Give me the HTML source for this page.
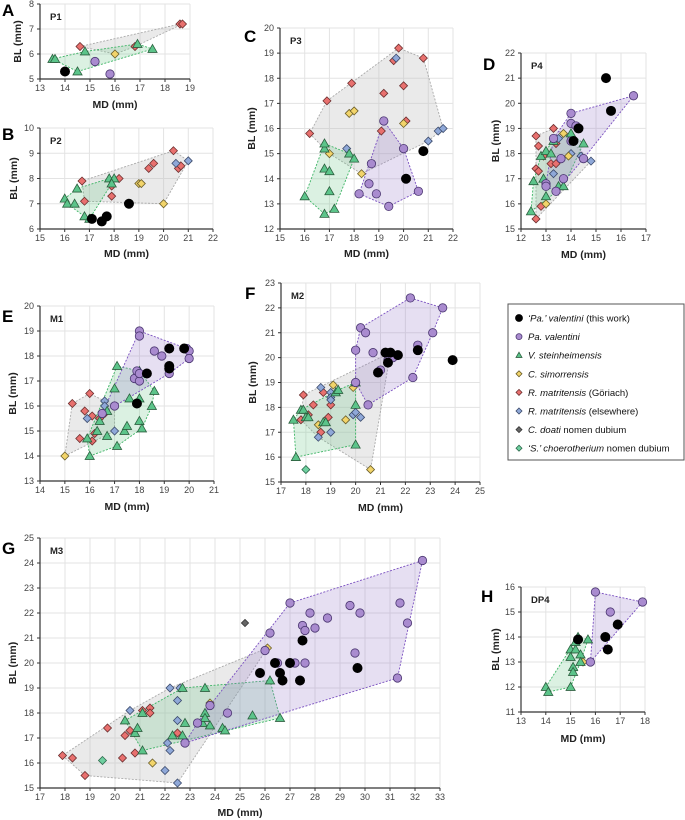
<!DOCTYPE html>
<html><head><meta charset="utf-8">
<style>
body{margin:0;background:#fff;}
svg{display:block;font-family:"Liberation Sans",sans-serif;}
.tk{font-size:9px;fill:#444;}
.at{font-size:10.5px;font-weight:bold;fill:#222;}
.pl{font-size:17px;font-weight:bold;fill:#000;}
.pt{font-size:9.5px;font-weight:bold;fill:#222;}
.lg{font-size:9.5px;fill:#111;}
</style></head>
<body>
<svg id="fig" width="685" height="820" viewBox="0 0 685 820"></svg>
<script>
// ---- data: [MD, BL] per series ----
const seriesNames = ["'Pa.' valentini (this work)","Pa. valentini","V. steinheimensis","C. simorrensis","R. matritensis (Göriach)","R. matritensis (elsewhere)","C. doati nomen dubium","'S.' choerotherium nomen dubium"];

const P1_blk=[[14,5.3]];
const P1_pur=[[15.2,5.7],[15.8,5.2]];
const P1_grn=[[13.5,5.8],[13.6,5.8],[14.5,5.3],[14.8,6.1],[16.9,6.4],[17.5,6.2]];
const P1_yel=[[16,6]];
const P1_red=[[14.6,6.3],[16.8,6.3],[18.6,7.2],[18.7,7.2]];
const P1_blu=[];

const P2_blk=[[17.1,6.4],[17.5,6.3],[17.7,6.5],[18.6,7]];
const P2_pur=[];
const P2_grn=[[16,7.2],[16.1,7],[16.4,7],[16.5,7.6],[16.8,6.5],[17.0,6.4],[17.8,8],[18,8],[17.9,7.8]];
const P2_yel=[[19,7.8],[19.1,7.8],[20,7]];
const P2_red=[[16.7,7.9],[16.8,7.1],[17.9,7.7],[17.9,7.3],[18.2,8],[19.4,8.4],[19.6,8.6],[20.4,9.1],[20.6,8.4],[20.7,8.5]];
const P2_blu=[[20.5,8.6],[21,8.7]];

const P3_blk=[[20.1,14],[20.8,15.1]];
const P3_pur=[[18.2,13.4],[18.6,13.8],[18.7,14.6],[18.9,13.4],[19.2,16.3],[19.4,12.9],[20,15.2],[20.6,13.5]];
const P3_grn=[[16,13.3],[16.8,12.6],[16.8,14.4],[16.8,15.2],[16.8,15.4],[17,14.3],[17,13.5],[17.2,12.8],[17.8,15],[18,14.8]];
const P3_yel=[[17,15],[17.8,16.6],[18,16.7],[18.3,14.2],[20,16.2]];
const P3_red=[[16.2,15.8],[16.9,17.1],[17.9,17.8],[19.1,15.9],[19.2,17.4],[19.6,18.7],[19.8,19.2],[20,17.7],[20.1,16.3],[20.8,18.8]];
const P3_blu=[[17.7,15.2],[19.7,18.8],[21,15.5],[21.4,15.9],[21.6,16]];

const P4_blk=[[15.4,21],[15.6,19.7],[14.3,19],[14.1,18.5]];
const P4_pur=[[14,19.6],[14,19.2],[14.2,19.1],[16.5,20.3],[13.6,17.8],[13,16.8],[13,16.7],[13.4,16.5],[14.5,17.8],[13.7,17],[13.3,18.6],[14,18.5]];
const P4_grn=[[12.4,15.7],[12.5,16.9],[12.8,17.9],[13,18.1],[12.9,17],[13,16.3],[13.2,18],[13.3,18.5],[13.5,16.7],[13.7,16.7],[14,18.8],[14.5,18.4]];
const P4_yel=[[13,16],[13.7,18.8],[13.9,17.9]];
const P4_red=[[12.6,18.7],[12.7,18.3],[12.6,17.4],[12.7,17.3],[12.6,15.4],[12.8,15.9],[12.9,17.9],[13.3,19],[13.4,18.4],[13.2,17.6],[13.4,17.6]];
const P4_blu=[[13.5,18.6],[13.3,17.2],[14,18],[14.4,17.9],[14.8,17.7],[13.7,17],[13.4,16.5]];
const P4_dgr=[[14,18.5]];

const M1_blk=[[17.9,16.1],[18.3,17.3],[19.2,18.3],[19.2,17.6],[19.2,17.5],[19.8,18.3]];
const M1_pur=[[18,19],[18,18.8],[18.6,18.2],[18.9,18],[19.2,17.3],[19.9,18.3],[20,18.2],[20,17.9],[17.8,17.1],[17.9,17.4],[18,17],[18,17.3],[16.5,15.7],[17,16]];
const M1_grn=[[16,14],[15.9,14.7],[16.3,15],[16.4,15.4],[16.7,14.8],[16.7,15.8],[17,16.7],[17.1,17.6],[17.1,14.4],[17.4,15],[17.5,15.2],[17.6,16.3],[18,16.3],[18,15.4],[18.1,15.1],[18,17.4],[18.5,16],[18.6,16.6]];
const M1_yel=[[15,14]];
const M1_red=[[15.3,16.1],[15.6,14.7],[15.8,15.8],[16,16.5],[16.1,15.6],[16.1,14.6],[16.2,14.9],[16.4,15.5],[16.6,15.7]];
const M1_blu=[[15.9,15.5],[16.6,16.2],[16.6,16],[17,15],[17,16]];

const M2_blk=[[20.9,19.4],[21.2,20.2],[21.3,19.8],[21.4,20.2],[21.7,20.1],[22.5,20.3],[23.9,19.9]];
const M2_pur=[[20,20.3],[20.2,21.2],[20.4,21],[20.7,20.2],[20,19],[20.5,18.1],[21,19.5],[21.3,19.9],[21.5,20],[22.2,22.4],[23.5,22],[23.1,21],[22.5,20.5],[22.3,19.2]];
const M2_grn=[[17.5,17.5],[17.6,16],[17.8,17.9],[17.9,17.9],[18,17.6],[18.1,17.6],[18.7,17.4],[18.8,17.4],[19.2,18.6],[19.3,18.7],[20,19],[20,18.1],[20,16.5]];
const M2_yel=[[18.5,17.3],[19.1,18.9],[19.6,17.5],[19.9,18.8],[20.6,15.5],[21.4,20.2]];
const M2_red=[[17.8,17.5],[17.9,18.5],[18.1,17.7],[18.3,18.1],[18.6,17],[18.7,18.6],[18.9,17.6],[19,18.1]];
const M2_blu=[[18.5,16.8],[18.6,18.8],[19,18.6],[19,18.4],[19,18.3],[19,17],[19.9,17.7],[20,17.8],[20.2,17.6]];
const M2_tea=[[18,15.5]];

const M3_blk=[[27.5,20.9],[26.4,20],[27,20],[25.8,19.6],[26.6,19.6],[26.7,19.3],[27.4,19.3],[29.7,19.8]];
const M3_pur=[[27,22.4],[32.3,24.1],[31.4,22.4],[31.7,21.6],[31.3,19.4],[29.4,22.3],[29.8,22],[27.8,22],[28.5,21.8],[27.5,21.5],[27.6,21.3],[28,21.4],[26.2,21.2],[26,20.5],[29.6,20.4],[27.2,20],[27.6,20],[26.5,20],[22.8,16.8],[23.3,17.6],[23.8,18.3],[24.5,18]];
const M3_grn=[[20.4,17.7],[20.8,17.2],[20.9,17.4],[21.1,16.5],[21.1,18],[22.3,17.1],[22.7,17.1],[22.7,19],[22.8,17.6],[23.5,17.6],[23.6,18],[23.6,17.8],[23.6,19],[23.8,17.5],[24.3,17.4],[24.4,17.3],[25.5,17.9],[26.2,19.3],[26.6,17.8]];
const M3_yel=[[21.5,16],[23.8,18.4],[26.1,20.6]];
const M3_red=[[17.9,16.3],[18.3,16.2],[18.8,15.5],[19.7,17.4],[20.3,16.2],[20.4,17.1],[20.6,17.3],[20.8,16.4],[21.1,18.1],[21.4,18.2],[21.4,18],[22.5,17.2]];
const M3_blu=[[20.6,18.1],[22.2,19],[22.5,18.5],[22.6,19],[22.5,17.7],[22.1,16.8],[22.2,16.5],[22,15.7],[22.5,15.2]];
const M3_dgr=[[25.2,21.6]];
const M3_tea=[[19.5,16.1]];

const DP4_blk=[[16.4,14],[16.5,13.5],[16.9,14.5],[15.3,13.9]];
const DP4_pur=[[15.8,13],[16,15.8],[16.6,15],[17.9,15.4]];
const DP4_grn=[[14,12],[14.1,11.8],[15,12],[15,13.5],[15,13.2],[15.1,12.8],[15.1,12.6],[15.2,13.5],[15.4,13.3],[15.4,13],[15.7,13.9],[15.2,13.8],[15.3,14]];
const DP4_yel=[[15.5,13]];

const NS="http://www.w3.org/2000/svg";
const svg=document.getElementById('fig');
function mk(tag,attrs,parent){const e=document.createElementNS(NS,tag);for(const k in attrs)e.setAttribute(k,attrs[k]);(parent||svg).appendChild(e);return e;}
function hull(pts){const p=pts.slice().sort((a,b)=>a[0]-b[0]||a[1]-b[1]);if(p.length<3)return p;const cr=(o,a,b)=>(a[0]-o[0])*(b[1]-o[1])-(a[1]-o[1])*(b[0]-o[0]);const lo=[],up=[];for(const q of p){while(lo.length>=2&&cr(lo[lo.length-2],lo[lo.length-1],q)<=0)lo.pop();lo.push(q);}for(let i=p.length-1;i>=0;i--){const q=p[i];while(up.length>=2&&cr(up[up.length-2],up[up.length-1],q)<=0)up.pop();up.push(q);}up.pop();lo.pop();return lo.concat(up);}

const STY={
 blk:{shape:'c',r:4.6,fill:'#000',stroke:'#000'},
 pur:{shape:'c',r:4.2,fill:'#a98bcf',stroke:'#4a3670'},
 grn:{shape:'t',r:4.6,fill:'#5cc48a',stroke:'#2b5f3e'},
 yel:{shape:'d',r:4,fill:'#f2d46a',stroke:'#6b5e2a'},
 red:{shape:'d',r:4,fill:'#e8706e',stroke:'#6b2e2e'},
 blu:{shape:'d',r:4,fill:'#8fa8d8',stroke:'#3b4a6b'},
 dgr:{shape:'d',r:3.6,fill:'#666',stroke:'#333'},
 tea:{shape:'d',r:4,fill:'#6fd0a0',stroke:'#2f6b4e'}
};
function marker(g,s,x,y,name){let e;const st=STY[s];
 if(st.shape==='c')e=mk('circle',{cx:x,cy:y,r:st.r},g);
 else if(st.shape==='t'){const r=st.r;e=mk('polygon',{points:`${x},${y-r} ${x+r},${y+r*0.75} ${x-r},${y+r*0.75}`},g);}
 else {const r=st.r;e=mk('polygon',{points:`${x},${y-r} ${x+r},${y} ${x},${y+r} ${x-r},${y}`},g);}
 e.setAttribute('fill',st.fill);e.setAttribute('stroke',st.stroke);e.setAttribute('stroke-width','0.8');
 
 
}

function panel(cfg){
 const g=mk('g',{});
 
 
 const sx=v=>cfg.x0+(v-cfg.xmin)/(cfg.xmax-cfg.xmin)*(cfg.x1-cfg.x0);
 const sy=v=>cfg.y0-(v-cfg.ymin)/(cfg.ymax-cfg.ymin)*(cfg.y0-cfg.y1);
 for(let v=cfg.xmin;v<=cfg.xmax;v++){mk('line',{x1:sx(v),x2:sx(v),y1:cfg.y1,y2:cfg.y0,stroke:'#e3e3e3','stroke-width':1},g);
  const t=mk('text',{x:sx(v),y:cfg.y0+12,'text-anchor':'middle',class:'tk'},g);t.textContent=v;
  }
 for(let v=cfg.ymin;v<=cfg.ymax;v++){mk('line',{x1:cfg.x0,x2:cfg.x1,y1:sy(v),y2:sy(v),stroke:'#e3e3e3','stroke-width':1},g);
  const t=mk('text',{x:cfg.x0-6,y:sy(v)+3,'text-anchor':'end',class:'tk'},g);t.textContent=v;
  }
 mk('line',{x1:cfg.x0,x2:cfg.x1,y1:cfg.y0,y2:cfg.y0,stroke:'#333','stroke-width':1.2},g);
 mk('line',{x1:cfg.x0,x2:cfg.x0,y1:cfg.y1,y2:cfg.y0,stroke:'#333','stroke-width':1.2},g);
 for(let v=cfg.xmin;v<=cfg.xmax;v++)mk('line',{x1:sx(v),x2:sx(v),y1:cfg.y0,y2:cfg.y0+3,stroke:'#333'},g);
 for(let v=cfg.ymin;v<=cfg.ymax;v++)mk('line',{x1:cfg.x0-3,x2:cfg.x0,y1:sy(v),y2:sy(v),stroke:'#333'},g);
 const d=cfg.data;
 const hulls=[
  {pts:[].concat(d.red||[],d.blu||[],d.yel||[]),fill:'rgba(190,190,190,0.32)',stroke:'#aaa',name:'hull-rhinoceros'},
  {pts:d.grn||[],fill:'rgba(110,200,140,0.25)',stroke:'#3cb464',name:'hull-v-steinheimensis'},
  {pts:d.pur||[],fill:'rgba(150,120,200,0.24)',stroke:'#7a50c0',name:'hull-pa-valentini'}];
 for(const h of hulls){if(h.pts.length<3)continue;const hp=hull(h.pts);
  const e=mk('polygon',{points:hp.map(p=>sx(p[0])+','+sy(p[1])).join(' '),fill:h.fill,stroke:h.stroke,'stroke-width':0.9,'stroke-dasharray':'2,1.5'},g);
  }
 for(const s of ['red','blu','yel','tea','dgr','grn','pur','blk']){if(!d[s])continue;for(const p of d[s])marker(g,s,sx(p[0]),sy(p[1]),'point-'+s);}
 let t=mk('text',{x:cfg.x0+10,y:cfg.y1+16,class:'pt'},g);t.textContent=cfg.title;
 
 t=mk('text',{x:cfg.lx,y:cfg.ly,class:'pl'},g);t.textContent=cfg.letter;
 
 t=mk('text',{x:(cfg.x0+cfg.x1)/2,y:cfg.mdy,'text-anchor':'middle',class:'at'},g);t.textContent='MD (mm)';
 
 const cy=(cfg.y0+cfg.y1)/2;
 t=mk('text',{x:cfg.blx,y:cy,'text-anchor':'middle',class:'at',transform:`rotate(-90 ${cfg.blx} ${cy})`},g);t.textContent='BL (mm)';
 
}

panel({title:'P1',letter:'A',lx:2,ly:16,x0:40,x1:190,y0:79,y1:4,xmin:13,xmax:19,ymin:5,ymax:8,mdy:108,blx:21,
 data:{blk:P1_blk,pur:P1_pur,grn:P1_grn,yel:P1_yel,red:P1_red,blu:P1_blu}});
panel({title:'P2',letter:'B',lx:2,ly:140,x0:40,x1:213,y0:229,y1:128,xmin:15,xmax:22,ymin:6,ymax:10,mdy:257,blx:17,
 data:{blk:P2_blk,pur:P2_pur,grn:P2_grn,yel:P2_yel,red:P2_red,blu:P2_blu}});
panel({title:'P3',letter:'C',lx:244,ly:42,x0:280,x1:453,y0:229,y1:28,xmin:15,xmax:22,ymin:12,ymax:20,mdy:257,blx:255,
 data:{blk:P3_blk,pur:P3_pur,grn:P3_grn,yel:P3_yel,red:P3_red,blu:P3_blu}});
panel({title:'P4',letter:'D',lx:483,ly:70,x0:521,x1:646,y0:229,y1:53,xmin:12,xmax:17,ymin:15,ymax:22,mdy:258,blx:499,
 data:{blk:P4_blk,pur:P4_pur,grn:P4_grn,yel:P4_yel,red:P4_red,blu:P4_blu,dgr:P4_dgr}});
panel({title:'M1',letter:'E',lx:2,ly:322,x0:40,x1:214,y0:481,y1:306,xmin:14,xmax:21,ymin:13,ymax:20,mdy:510,blx:16,
 data:{blk:M1_blk,pur:M1_pur,grn:M1_grn,yel:M1_yel,red:M1_red,blu:M1_blu}});
panel({title:'M2',letter:'F',lx:245,ly:299,x0:281,x1:480,y0:482,y1:283,xmin:17,xmax:25,ymin:15,ymax:23,mdy:511,blx:256,
 data:{blk:M2_blk,pur:M2_pur,grn:M2_grn,yel:M2_yel,red:M2_red,blu:M2_blu,tea:M2_tea}});
panel({title:'M3',letter:'G',lx:2,ly:554,x0:40,x1:440,y0:788,y1:538,xmin:17,xmax:33,ymin:15,ymax:25,mdy:816,blx:16,
 data:{blk:M3_blk,pur:M3_pur,grn:M3_grn,yel:M3_yel,red:M3_red,blu:M3_blu,dgr:M3_dgr,tea:M3_tea}});
panel({title:'DP4',letter:'H',lx:481,ly:602,x0:521,x1:645,y0:712,y1:587,xmin:13,xmax:18,ymin:11,ymax:16,mdy:742,blx:499,
 data:{blk:DP4_blk,pur:DP4_pur,grn:DP4_grn,yel:DP4_yel}});

// legend
const lg=mk('g',{});


mk('rect',{x:508,y:304,width:176,height:156,fill:'#fff',stroke:'#555','stroke-width':1},lg);
const keys=['blk','pur','grn','yel','red','blu','dgr','tea'];
const labels=[
 ['<tspan font-style="italic">\u2018Pa.\u2019 valentini</tspan> (this work)'],
 ['<tspan font-style="italic">Pa. valentini</tspan>'],
 ['<tspan font-style="italic">V. steinheimensis</tspan>'],
 ['<tspan font-style="italic">C. simorrensis</tspan>'],
 ['<tspan font-style="italic">R. matritensis</tspan> (Göriach)'],
 ['<tspan font-style="italic">R. matritensis</tspan> (elsewhere)'],
 ['<tspan font-style="italic">C. doati</tspan> nomen dubium'],
 ['<tspan font-style="italic">\u2018S.\u2019 choerotherium</tspan> nomen dubium']];
keys.forEach((k,i)=>{const y=318+i*18.6;
 const st=STY[k];const save=st.r;st.r=k==='blk'?3.5:3;marker(lg,k,519,y,'legend-marker-'+k);st.r=save;
 const t=mk('text',{x:528,y:y+3.5,class:'lg'},lg);t.innerHTML=labels[i][0];
 
 
});
</script>
</body></html>
